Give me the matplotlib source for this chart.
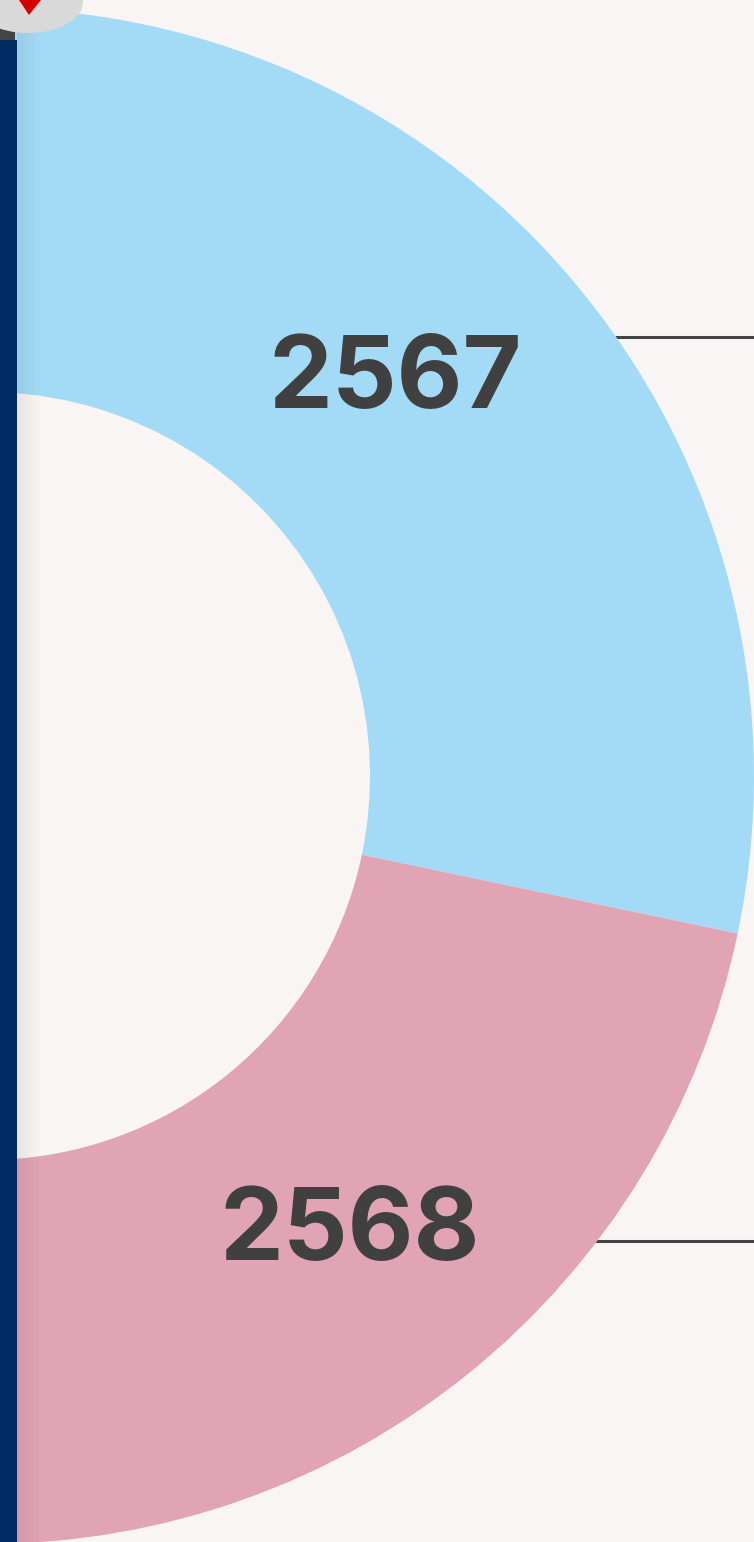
import numpy as np
import matplotlib.pyplot as plt
from matplotlib.patches import Ellipse, Polygon, Rectangle

W, H = 754, 1542

# year labels and their share of the full ring (percent)
years = ["2567", "2568"]
shares = [31.4, 21.7]
colors = ["#a3dbf6", "#e0a4b5"]

BG = "#f9f5f4"
NAVY = "#002b63"
TEXT = "#404040"

fig = plt.figure(figsize=(W / 100, H / 100), dpi=100, facecolor=BG)
ax = fig.add_axes([0, 0, 1, 1])
ax.set_facecolor(BG)

# donut centre sits just off the left edge of the canvas
cx, cy = -14, H - 776
R = 768
ring = 384

# leader lines, hidden behind the ring where they cross it
for y_px in (337, 1241):
    ax.plot([cx, W], [H - y_px, H - y_px], color="#444444", lw=2.2,
            solid_capstyle="butt", zorder=1)

rest = 100 - sum(shares)
wedges, texts = ax.pie(
    shares + [rest],
    labels=years + [""],
    colors=colors + ["none"],
    startangle=101.2,
    counterclock=False,
    center=(cx, cy),
    radius=R,
    labeldistance=(R - ring / 2) / R,
    wedgeprops=dict(width=ring, edgecolor="none", linewidth=0),
    textprops=dict(fontsize=73, fontweight="bold", color=TEXT,
                   family=["Inter", "DejaVu Sans"]),
    frame=True,
)
for w in wedges:
    w.set_zorder(2)
for t in texts:
    t.set_ha("center")
    t.set_va("center_baseline")
    t.set_zorder(5)

# soft shadow next to the navy bar
grad = np.linspace(1, 0, 64).reshape(1, -1)
ax.imshow(np.dstack([np.zeros_like(grad)] * 3 + [grad * 0.07]),
          extent=[17, 42, 0, H], aspect="auto", zorder=3)

# navy bar down the left edge
ax.add_patch(Rectangle((0, 0), 17, H - 40, color=NAVY, lw=0, zorder=6))
ax.add_patch(Rectangle((0, H - 40), 15, 12, color="#444444", lw=0, zorder=6))

# grey marker with red pointer at the top
ax.add_patch(Ellipse((28, H - 2), 110, 62, color="#d9d9d9", lw=0, zorder=7))
ax.add_patch(Polygon([(19, H), (41, H), (29, H - 15)], closed=True,
                     color="#d40000", lw=0, zorder=8))

ax.set_xlim(0, W)
ax.set_ylim(0, H)
ax.set_aspect("equal")
ax.axis("off")
fig.savefig("out.png", dpi=100, facecolor=BG)
